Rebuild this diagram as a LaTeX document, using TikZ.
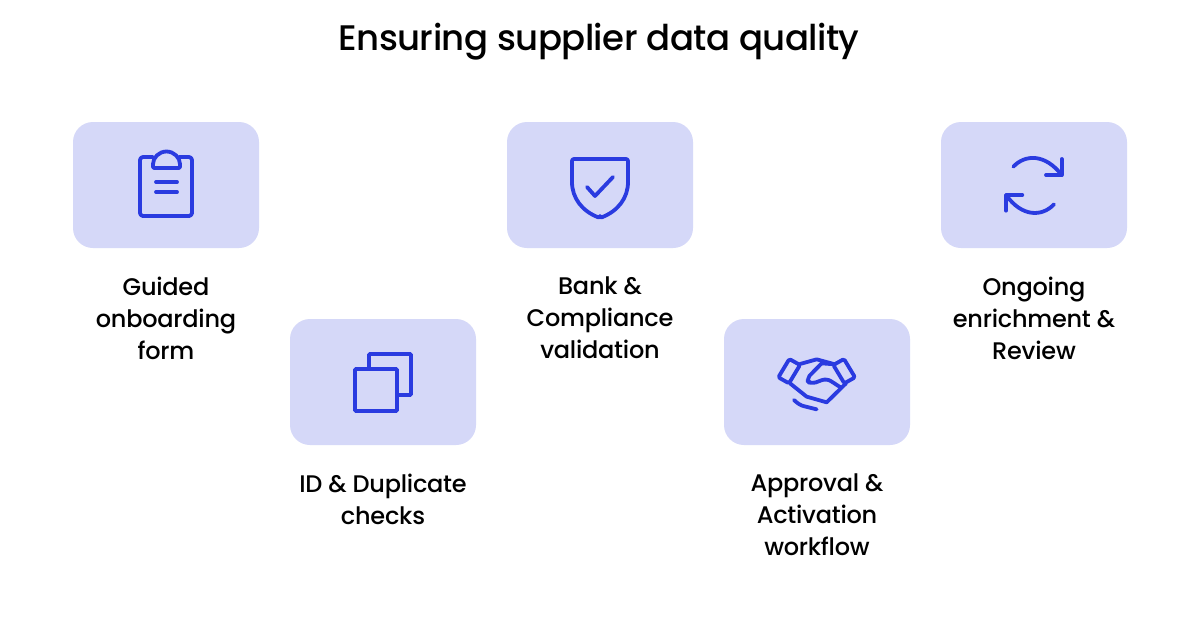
\documentclass[tikz,border=0pt]{standalone}
\usepackage{fontspec}
\setmainfont{Poppins}[UprightFont=* Medium]
\definecolor{boxfill}{HTML}{D5D8F8}
\definecolor{iconblue}{HTML}{2A3BE0}
\begin{document}
\begin{tikzpicture}[x=1pt,y=-1pt,
  card/.style={fill=boxfill,draw=none,rounded corners=20pt,minimum width=186pt,minimum height=126pt,inner sep=0pt},
  lbl/.style={align=center,inner sep=0pt,text=black,font=\fontsize{24}{32}\selectfont\addfontfeature{LetterSpace=-1}},
  ttl/.style={inner sep=0pt,text=black,font=\fontsize{35.5}{44}\selectfont\addfontfeature{LetterSpace=-1.5}},
  icon/.style={draw=iconblue,line width=3.8pt,line cap=round,line join=round}]
\useasboundingbox (0,0) rectangle (1200,630);
\fill[white] (0,0) rectangle (1200,630);
\node[ttl] (title) at (599,42) {Ensuring supplier data quality};
\node[card] (c1) at (166,185) {};
\node[card] (c2) at (383,382) {};
\node[card] (c3) at (600,185) {};
\node[card] (c4) at (817,382) {};
\node[card] (c5) at (1034,185) {};
\node[lbl,anchor=north] (l1) at (166,277) {Guided\\onboarding\\form};
\node[lbl,anchor=north] (l2) at (383,474) {ID \& Duplicate\\checks};
\node[lbl,anchor=north] (l3) at (600,277) {Bank \&\\Compliance\\validation};
\node[lbl,anchor=north] (l4) at (817,474) {Approval \&\\Activation\\workflow};
\node[lbl,anchor=north] (l5) at (1034,277) {Ongoing\\enrichment \&\\Review};
% clipboard
\draw[icon,rounded corners=3pt] (153,157) -- (140,157) -- (140,216) -- (192,216) -- (192,157) -- (179,157);
\draw[icon,rounded corners=1pt] (153,168) -- (153,165) arc[start angle=180,end angle=0,radius=13.5pt] -- (180,168) -- cycle;
\draw[icon] (156,182) -- (177,182) (156,192) -- (177,192);
% copy
\draw[icon,line join=miter,rounded corners=1pt] (355,369) rectangle (397,411);
\draw[icon,line join=miter,rounded corners=1pt] (369,369) -- (369,354) -- (411,354) -- (411,395) -- (397,395);
% shield
\draw[icon,rounded corners=2pt] (600,218) .. controls (582,211) and (572,198) .. (572,180) -- (572,159) -- (628,159) -- (628,180) .. controls (628,198) and (618,211) .. (600,218) -- cycle;
\draw[icon] (587,187) -- (595,196) -- (613,177);
% handshake
\begin{scope}[shift={(770,345)},x=0.3333pt,y=-0.3333pt]
\draw[icon,rounded corners=1.5pt] (58,42) -- (90,60) -- (57,115) -- (25,97) -- cycle;
\draw[icon,rounded corners=1.5pt] (222,42) -- (190,60) -- (223,115) -- (255,97) -- cycle;
\draw[icon] (90,57) -- (140,43) -- (195,58) -- (155,55);
\draw[icon,rounded corners=5pt] (155,55) -- (108,103) -- (122,118) -- (170,100) -- (213,128);
\draw[icon] (60,115) -- (110,155) -- (170,172) -- (228,115);
\draw[icon] (72,165) .. controls (82,175) and (92,181) .. (100,183) -- (140,193);
\end{scope}
% refresh
\begin{scope}[shift={(990,145)},x=0.3333pt,y=-0.3333pt]
\draw[icon] (70,65) .. controls (105,28) and (165,25) .. (215,90);
\draw[icon] (215,42) -- (215,90) -- (168,90);
\draw[icon] (192,178) .. controls (157,215) and (97,218) .. (48,150);
\draw[icon] (48,197) -- (48,150) -- (97,150);
\end{scope}
\end{tikzpicture}
\end{document}
